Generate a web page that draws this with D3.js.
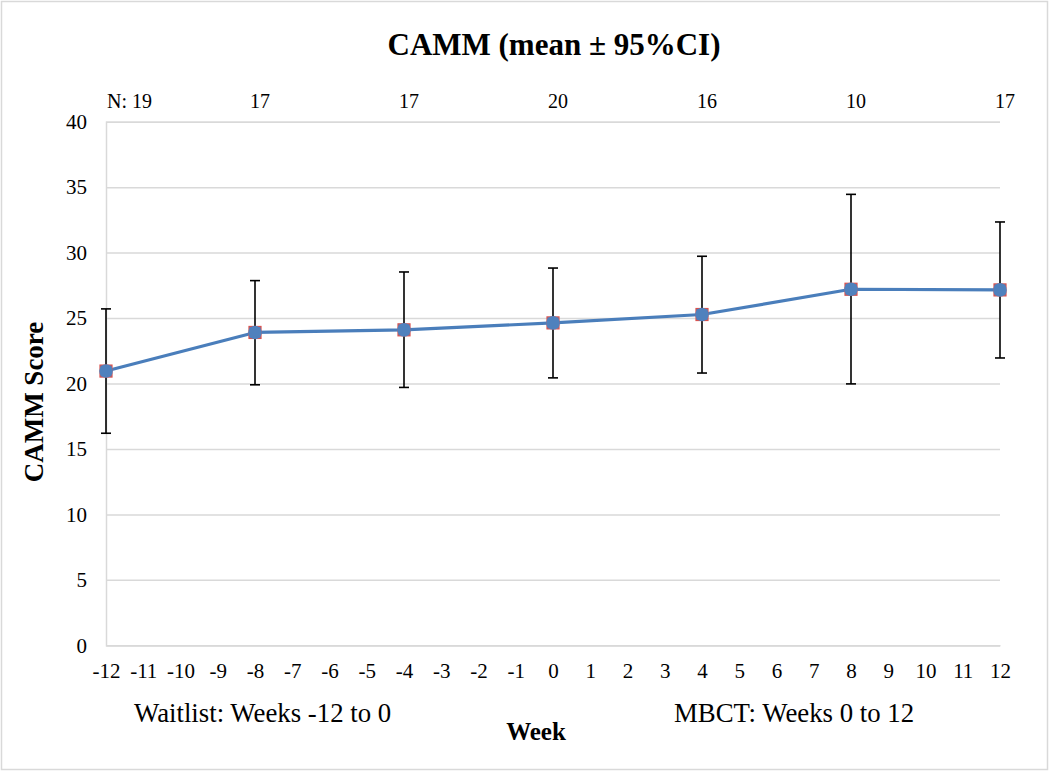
<!DOCTYPE html>
<html lang="en">
<head>
    <meta charset="UTF-8">
    <title>CAMM</title>
    <script src="https://cdnjs.cloudflare.com/ajax/libs/d3/7.8.5/d3.min.js"></script>
    <style>
        body { margin: 0; background: #fff; }
        svg { display: block; }
        text { font-family: "Times New Roman", "Liberation Serif", serif; fill: #000; }
    </style>
</head>
<body>
    <div id="wrap"></div>
    <script>
        // data
        var weeks = [-12, -8, -4, 0, 4, 8, 12];
        var means = [20.95, 23.9, 24.1, 24.63, 25.27, 27.2, 27.15];
        var ciLow = [16.2, 19.9, 19.7, 20.43, 20.8, 19.97, 21.95];
        var ciHigh = [25.7, 27.86, 28.52, 28.82, 29.72, 34.45, 32.34];
        var nLabels = ['N: 19', '17', '17', '20', '16', '10', '17'];
        var yTicks = [0, 5, 10, 15, 20, 25, 30, 35, 40];
        var xTicks = d3.range(-12, 13);

        var WIDTH = 1050,
            HEIGHT = 773,
            LEFT = 106,
            RIGHT = 1000,
            TOP = 121.7,
            BOTTOM = 645.3,
            LINECOLOR = '#4a7ebb',
            GRIDCOLOR = '#d9d9d9',
            SERIF = '"Times New Roman", "Liberation Serif", serif';

        var svg = d3.select('#wrap').append('svg').attr('width', WIDTH).attr('height', HEIGHT);

        // chart border
        svg.append('rect')
            .attr('x', 1.5).attr('y', 1.5)
            .attr('width', 1046).attr('height', 768)
            .attr('fill', '#fff').attr('stroke', GRIDCOLOR).attr('stroke-width', 1.5);

        var x = d3.scaleLinear().domain([-12, 12]).range([LEFT, RIGHT]);
        var y = d3.scaleLinear().domain([0, 40]).range([BOTTOM, TOP]);

        // gridlines + y labels
        var yAxis = d3.axisLeft(y).tickValues(yTicks).tickSize(-(RIGHT - LEFT)).tickPadding(19)
            .tickFormat(function(d) { return String(d); });
        var gy = svg.append('g').attr('transform', 'translate(' + LEFT + ',0)').call(yAxis);
        gy.select('.domain').attr('stroke', GRIDCOLOR).attr('stroke-width', 1.5);
        gy.selectAll('.tick line').attr('stroke', GRIDCOLOR).attr('stroke-width', 1.5);
        gy.selectAll('.tick text').attr('font-size', 21).attr('font-family', SERIF).attr('fill', '#000');

        // x axis (no tick marks), plain hyphen for negatives
        var xAxis = d3.axisBottom(x).tickValues(xTicks).tickSize(0).tickPadding(18)
            .tickFormat(function(d) { return String(d); });
        var gx = svg.append('g').attr('transform', 'translate(0,' + BOTTOM + ')').call(xAxis);
        gx.select('.domain').attr('stroke', GRIDCOLOR).attr('stroke-width', 1.5);
        gx.selectAll('.tick text').attr('font-size', 21).attr('font-family', SERIF).attr('fill', '#000');

        // error bars
        var eb = svg.append('g').attr('class', 'errbars')
            .selectAll('g').data(weeks).enter().append('g')
            .attr('stroke', '#000').attr('stroke-width', 1.6);
        eb.append('line')
            .attr('x1', function(d) { return x(d); }).attr('x2', function(d) { return x(d); })
            .attr('y1', function(d, i) { return y(ciLow[i]); })
            .attr('y2', function(d, i) { return y(ciHigh[i]); });
        eb.append('line')
            .attr('x1', function(d) { return x(d) - 5; }).attr('x2', function(d) { return x(d) + 5; })
            .attr('y1', function(d, i) { return y(ciHigh[i]); })
            .attr('y2', function(d, i) { return y(ciHigh[i]); });
        eb.append('line')
            .attr('x1', function(d) { return x(d) - 5; }).attr('x2', function(d) { return x(d) + 5; })
            .attr('y1', function(d, i) { return y(ciLow[i]); })
            .attr('y2', function(d, i) { return y(ciLow[i]); });

        // mean line
        var line = d3.line()
            .x(function(d) { return x(d); })
            .y(function(d, i) { return y(means[i]); });
        svg.append('path')
            .datum(weeks)
            .attr('d', line)
            .attr('fill', 'none')
            .attr('stroke', LINECOLOR)
            .attr('stroke-width', 3.2)
            .attr('stroke-linejoin', 'round');

        // markers: square with red edge, blue dot on top
        var mk = svg.append('g').attr('class', 'markers')
            .selectAll('g').data(weeks).enter().append('g')
            .attr('transform', function(d, i) { return 'translate(' + x(d) + ',' + y(means[i]) + ')'; });
        mk.append('rect')
            .attr('x', -6).attr('y', -6).attr('width', 12).attr('height', 12)
            .attr('fill', '#4f81bd').attr('stroke', '#d9534f').attr('stroke-width', 1.2);
        mk.append('circle')
            .attr('r', 6.8)
            .attr('fill', '#4f81bd');

        // N labels above plot
        svg.append('g').selectAll('text').data(nLabels).enter().append('text')
            .attr('x', function(d, i) { return i === 0 ? x(weeks[i]) + 1 : x(weeks[i]) + 5; })
            .attr('y', 108)
            .attr('text-anchor', function(d, i) { return i === 0 ? 'start' : 'middle'; })
            .attr('font-size', 20)
            .text(function(d) { return d; });

        // title
        svg.append('text')
            .attr('x', 554).attr('y', 55)
            .attr('text-anchor', 'middle')
            .attr('font-size', 31).attr('font-weight', 'bold')
            .text('CAMM (mean \u00b1 95%CI)');

        // axis titles
        svg.append('text')
            .attr('transform', 'translate(43,402) rotate(-90)')
            .attr('text-anchor', 'middle')
            .attr('font-size', 27).attr('font-weight', 'bold')
            .text('CAMM Score');
        svg.append('text')
            .attr('x', 536).attr('y', 740)
            .attr('text-anchor', 'middle')
            .attr('font-size', 25).attr('font-weight', 'bold')
            .text('Week');

        // phase notes
        svg.append('text')
            .attr('x', 134).attr('y', 722)
            .attr('font-size', 26.8)
            .text('Waitlist: Weeks -12 to 0');
        svg.append('text')
            .attr('x', 674).attr('y', 722)
            .attr('font-size', 26.8)
            .text('MBCT: Weeks 0 to 12');
    </script>
</body>
</html>
